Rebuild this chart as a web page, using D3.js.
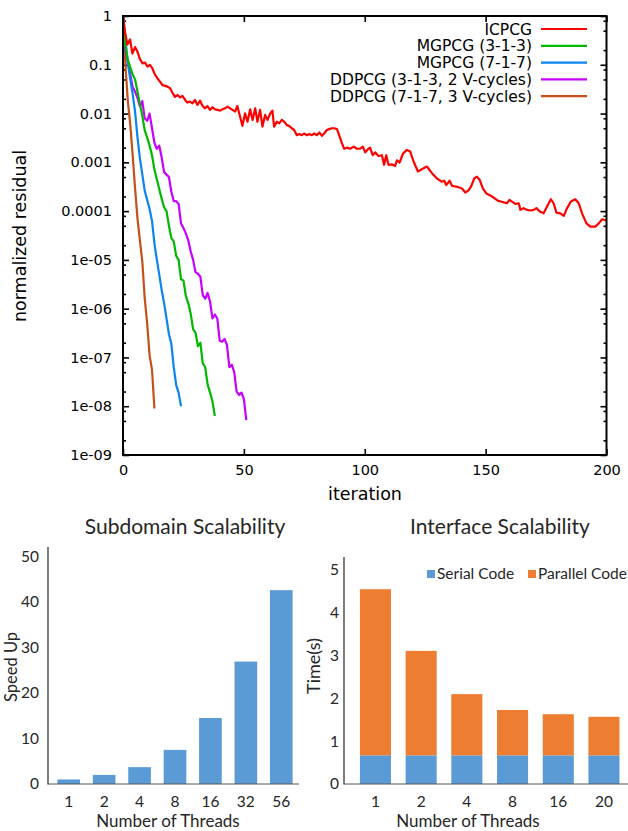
<!DOCTYPE html>
<html>
<head>
<meta charset="utf-8" />
<script src="https://d3js.org/d3.v7.min.js"></script>
<style>
  body { margin: 0; background: #fff; }
  .gp text { font-family: "DejaVu Sans", Verdana, sans-serif; fill: #000; }
  .xl text { font-family: Lato, "Open Sans", sans-serif; fill: #262626; }
</style>
</head>
<body>
<script>
// ---- convergence data (iteration, normalized residual) ----
var icpcg = [[0,1],[0.8,0.48],[1.8,0.26],[2.9,0.33],[3.9,0.17],[5,0.23],[5.9,0.19],[7,0.13],[8.1,0.107],[9.1,0.111],
  [10.1,0.092],[11.2,0.099],[12.1,0.085],[13.3,0.062],[14.2,0.053],[15.3,0.045],[16.3,0.0385],[17.4,0.037],[18.4,0.0356],
  [19.5,0.033],[20.4,0.027],[21.5,0.022],[22.5,0.024],[23.6,0.0215],[24.6,0.023],[25.7,0.019],[26.6,0.0168],[27.7,0.0176],
  [28.7,0.0162],[29.8,0.019],[30.8,0.015],[31.9,0.0184],[32.9,0.0143],[34,0.0128],[34.9,0.0143],[36,0.0119],[37,0.0134],
  [38.1,0.0122],[39.1,0.0119],[40.2,0.0115],[41.1,0.0122],[42.2,0.0128],[43.2,0.0139],[44.3,0.0128],[45.3,0.0119],
  [46.4,0.011],[47.3,0.0143],[48.4,0.0087],[49.4,0.0056],[50.5,0.0101],[51.5,0.0068],[52.6,0.0122],[53.6,0.0074],
  [54.7,0.0128],[55.6,0.0068],[56.7,0.0119],[57.7,0.0054],[58.8,0.0094],[59.8,0.0074],[60.9,0.0101],[61.8,0.0115],
  [62.5,0.0054],[63.6,0.0068],[64.6,0.0063],[65.7,0.0074],[66.7,0.0068],[67.8,0.0058],[68.7,0.0056],[69.8,0.005],
  [70.8,0.0046],[71.9,0.0036],[72.9,0.0038],[74,0.0036],[74.9,0.0039],[76.1,0.0036],[77,0.0038],[78.1,0.0036],
  [79.1,0.0039],[80.2,0.0036],[81.2,0.0041],[82.3,0.0035],[83.2,0.0039],[84.3,0.0046],[85.3,0.0048],[86.4,0.005],
  [87.4,0.005],[88.5,0.0048],[89.4,0.0036],[90.5,0.0025],[91.5,0.0019],[92.6,0.002],[94,0.0019],[95.4,0.0021],
  [96.8,0.0019],[98.1,0.0019],[99.2,0.0021],[100.2,0.0016],[101.5,0.0019],[102.2,0.002],[103.3,0.0014],[104.3,0.0016],
  [105.7,0.00135],[107.1,0.0014],[108,0.00089],[108.9,0.0014],[109.8,0.00089],[111.2,0.00091],[112.6,0.00084],
  [113.3,0.0011],[114.4,0.00099],[115.8,0.0015],[117.4,0.0018],[118.8,0.00166],[120.2,0.00104],[122,0.00065],
  [123.6,0.00072],[125.7,0.00082],[127.8,0.0006],[129.8,0.00047],[131.9,0.0004],[132.9,0.00042],[133.7,0.00034],
  [135.1,0.00042],[136.1,0.00033],[137.4,0.00032],[138.8,0.00031],[140.2,0.00029],[141.6,0.00024],[143,0.00027],
  [144.1,0.00033],[145.3,0.00047],[146.4,0.00051],[147.5,0.00044],[148.9,0.00029],[150.3,0.00023],[151.9,0.00021],
  [153.3,0.00019],[155,0.000164],[156.3,0.000157],[157.7,0.00015],[158.8,0.000145],[159.9,0.00017],[160.9,0.000157],
  [162.3,0.000141],[163.7,0.000145],[164.4,0.000106],[165.7,0.000115],[167.1,0.000106],[168.5,0.000103],
  [169.9,0.000106],[171,0.000115],[172.4,0.000098],[174,0.00009],[175.4,0.000124],[177,0.000175],[178.1,0.000145],
  [179.3,0.000093],[180.9,0.00009],[182.3,0.00008],[183.7,0.000115],[185.3,0.000157],[187.1,0.000175],[188.5,0.000145],
  [189.9,0.00009],[191.7,0.000056],[193.3,0.000048],[195.4,0.000048],[196.8,0.000056],[198.2,0.000068],[200,0.000064]];

var mg313 = [[0,1],[1,0.25],[2,0.126],[3,0.089],[4,0.063],[5,0.05],[6,0.028],[7,0.016],[8,0.0089],[9,0.0045],
  [10,0.0032],[11,0.0022],[12,0.0014],[13,7.1e-4],[14,4.5e-4],[15,2.8e-4],[16,1.8e-4],[17,1.2e-4],[18,1e-4],[19,5e-5],
  [20,2.8e-5],[21,2.4e-5],[22,1.2e-5],[23,1e-5],[24,4e-6],[25,3.8e-6],[26,1.8e-6],[27,1.3e-6],[28,7.9e-7],[29,3.8e-7],
  [30,3.2e-7],[31,1.7e-7],[32,2e-7],[33,7.6e-8],[34,6.3e-8],[35,2.8e-8],[36,1.9e-8],[37,1.26e-8],[38,6.3e-9]];

var mg717 = [[0,1],[1,0.32],[2,0.11],[3,0.05],[4,0.025],[5,0.011],[6,0.0032],[7,0.0012],[8,5.6e-4],[9,2.6e-4],
  [10,1.7e-4],[11,1.1e-4],[12,6.3e-5],[13,2.2e-5],[14,1e-5],[15,5e-6],[16,2.4e-6],[17,1.3e-6],[18,6.3e-7],[19,3e-7],
  [20,1.9e-7],[21,6.3e-8],[22,2.7e-8],[23,1.9e-8],[24,1e-8]];

var dd313 = [[0,1],[1,0.2],[2,0.11],[3,0.063],[4,0.035],[5,0.028],[6,0.021],[7,0.014],[8,0.018],[9,0.0079],
  [10,0.0071],[11,0.01],[12,0.005],[13,0.0025],[14,0.0019],[15,0.0022],[16,0.00126],[17,6.3e-4],[18,5.6e-4],[19,5e-4],
  [20,2.5e-4],[21,1.6e-4],[22,1.6e-4],[23,1.4e-4],[24,5.6e-5],[25,4.5e-5],[26,3.5e-5],[27,2.5e-5],[28,1.5e-5],[29,1e-5],
  [30,5.6e-6],[31,5.2e-6],[32,4.5e-6],[33,1.9e-6],[34,1.6e-6],[35,2.1e-6],[36,1.4e-6],[37,6.3e-7],[38,7.6e-7],[39,6.3e-7],
  [40,2.2e-7],[41,2.1e-7],[42,2.4e-7],[43,1.8e-7],[44,6.3e-8],[45,7.1e-8],[46,5e-8],[47,2e-8],[48,1.7e-8],[49,1.9e-8],
  [50,1.4e-8],[51,5.2e-9]];

var dd717 = [[0,1],[1,0.1],[2,0.018],[3,0.006],[4,0.0014],[5,2.9e-4],[6,7e-5],[7,2.5e-5],[8,9e-6],[9,1.6e-6],
  [10,5e-7],[11,1.1e-7],[12,5.6e-8],[13,9e-9]];

var seriesNames = ["ICPCG", "MGPCG (3-1-3)", "MGPCG (7-1-7)", "DDPCG (3-1-3, 2 V-cycles)", "DDPCG (7-1-7, 3 V-cycles)"];
var seriesColors = ["#ff0000", "#00b800", "#0a84f0", "#c800ff", "#c4501c"];
var seriesData = [icpcg, mg313, mg717, dd313, dd717];

var iterTicks = [0, 50, 100, 150, 200];
var resTicks = [1, 0.1, 0.01, 0.001, 1e-4, 1e-5, 1e-6, 1e-7, 1e-8, 1e-9];
var resTickLabels = ["1", "0.1", "0.01", "0.001", "0.0001", "1e-05", "1e-06", "1e-07", "1e-08", "1e-09"];
var resMinor = [];
resTicks.slice(0, 9).forEach(function(d){ [0.8, 0.5, 0.2].forEach(function(m){ resMinor.push(d * m); }); });

// ---- bar chart data ----
var threadsA = ["1", "2", "4", "8", "16", "32", "56"];
var speedUp = [1.0, 2.0, 3.7, 7.5, 14.5, 26.9, 42.6];
var speedTicks = [0, 10, 20, 30, 40, 50];

var threadsB = ["1", "2", "4", "8", "16", "20"];
var serialTime = [0.67, 0.67, 0.67, 0.67, 0.67, 0.67];
var parallelTime = [3.88, 2.44, 1.43, 1.06, 0.96, 0.90];
var timeTicks = [0, 1, 2, 3, 4, 5];
var stackKeys = ["Serial Code", "Parallel Code"];
var stackColors = ["#5b9bd5", "#ed7d31"];

var svg = d3.select("body").append("svg")
    .attr("width", 628).attr("height", 831);

// ================= top: convergence plot =================
var g = svg.append("g").attr("class", "gp");
var x = d3.scaleLinear().domain([0, 200]).range([123, 606.5]);
var y = d3.scaleLog().domain([1e-9, 1]).range([455, 16]);

var axB = g.append("g").attr("transform", "translate(0,455)")
    .call(d3.axisBottom(x).tickValues(iterTicks).tickSizeInner(-6).tickSizeOuter(0).tickPadding(10));
var axT = g.append("g").attr("transform", "translate(0,16)")
    .call(d3.axisTop(x).tickValues(iterTicks).tickSizeInner(-6).tickSizeOuter(0).tickFormat(""));
var axL = g.append("g").attr("transform", "translate(123,0)")
    .call(d3.axisLeft(y).tickValues(resTicks).tickFormat(function(d, i){ return resTickLabels[i]; })
      .tickSizeInner(-6).tickSizeOuter(0).tickPadding(11));
var axLm = g.append("g").attr("transform", "translate(123,0)")
    .call(d3.axisLeft(y).tickValues(resMinor).tickFormat("").tickSizeInner(-3).tickSizeOuter(0));
var axR = g.append("g").attr("transform", "translate(606.5,0)")
    .call(d3.axisRight(y).tickValues(resTicks).tickFormat("").tickSizeInner(-6).tickSizeOuter(0));
var axRm = g.append("g").attr("transform", "translate(606.5,0)")
    .call(d3.axisRight(y).tickValues(resMinor).tickFormat("").tickSizeInner(-3).tickSizeOuter(0));

[axB, axT, axL, axLm, axR, axRm].forEach(function(a){
  a.select(".domain").remove();
  a.selectAll(".tick line").attr("stroke", "#000").attr("stroke-width", 1.6);
  a.selectAll("text").style("font-size", "14.5px").attr("fill", "#000");
});

g.append("clipPath").attr("id", "plotclip").append("rect")
    .attr("x", 123).attr("y", 14).attr("width", 484).attr("height", 443);

var line = d3.line().x(function(d){ return x(d[0]); }).y(function(d){ return y(d[1]); });
g.append("g").attr("clip-path", "url(#plotclip)")
  .selectAll("path").data(seriesData.slice().reverse()).enter().append("path")
    .attr("d", line)
    .attr("fill", "none")
    .attr("stroke", function(d, i){ return seriesColors[seriesData.length - 1 - i]; })
    .attr("stroke-width", 2.2)
    .attr("stroke-linejoin", "round");

g.append("rect").attr("x", 123).attr("y", 16).attr("width", 483.5).attr("height", 439)
    .attr("fill", "none").attr("stroke", "#000").attr("stroke-width", 2);

// legend
var leg = g.append("g");
seriesNames.forEach(function(name, i){
  var yy = 29 + i * 16.8;
  leg.append("text").attr("x", 532).attr("y", yy).attr("dy", "0.36em")
     .attr("text-anchor", "end").style("font-size", "15.5px").text(name);
  leg.append("line").attr("x1", 541).attr("x2", 587).attr("y1", yy).attr("y2", yy)
     .attr("stroke", seriesColors[i]).attr("stroke-width", 2.2);
});

g.append("text").attr("x", 365).attr("y", 500).attr("text-anchor", "middle")
    .style("font-size", "17.5px").text("iteration");
g.append("text").attr("transform", "translate(26,236) rotate(-90)").attr("text-anchor", "middle")
    .style("font-size", "17.5px").text("normalized residual");

// ================= bottom left: subdomain scalability =================
var b1 = svg.append("g").attr("class", "xl");
var xa = d3.scaleBand().domain(threadsA).range([51, 299]).paddingInner(0.36).paddingOuter(0.18);
var ya = d3.scaleLinear().domain([0, 50]).range([784, 556.5]);

b1.selectAll("rect").data(speedUp).enter().append("rect")
    .attr("x", function(d, i){ return xa(threadsA[i]); })
    .attr("width", xa.bandwidth())
    .attr("y", function(d){ return ya(d); })
    .attr("height", function(d){ return ya(0) - ya(d); })
    .attr("fill", "#5b9bd5");

var ayA = b1.append("g").attr("transform", "translate(48,0)")
    .call(d3.axisLeft(ya).tickValues(speedTicks).tickFormat(d3.format("d")).tickSize(0).tickPadding(9));
var axA = b1.append("g").attr("transform", "translate(0,784)")
    .call(d3.axisBottom(xa).tickSize(0).tickPadding(12));
[ayA, axA].forEach(function(a){
  a.select(".domain").remove();
  a.selectAll("text").style("font-size", "15.5px").attr("fill", "#262626");
});
b1.append("line").attr("x1", 48).attr("x2", 48).attr("y1", 547).attr("y2", 784.5)
    .attr("stroke", "#262626").attr("stroke-width", 1.2);
b1.append("line").attr("x1", 48).attr("x2", 299).attr("y1", 784).attr("y2", 784)
    .attr("stroke", "#595959").attr("stroke-width", 1.2);

b1.append("text").attr("x", 185).attr("y", 534).attr("text-anchor", "middle")
    .style("font-size", "21px").text("Subdomain Scalability");
b1.append("text").attr("x", 168).attr("y", 827).attr("text-anchor", "middle")
    .style("font-size", "17px").text("Number of Threads");
b1.append("text").attr("transform", "translate(17,667) rotate(-90)").attr("text-anchor", "middle")
    .style("font-size", "16.5px").text("Speed Up");

// ================= bottom right: interface scalability =================
var b2 = svg.append("g").attr("class", "xl");
var xb = d3.scaleBand().domain(threadsB).range([352.6, 626.8]).paddingInner(0.32).paddingOuter(0.16);
var yb = d3.scaleLinear().domain([0, 5]).range([784, 570]);

var stackRows = threadsB.map(function(t, i){
  return { threads: t, "Serial Code": serialTime[i], "Parallel Code": parallelTime[i] };
});
var stacked = d3.stack().keys(stackKeys)(stackRows);

b2.selectAll("g.layer").data(stacked).enter().append("g").attr("class", "layer")
    .attr("fill", function(d, i){ return stackColors[i]; })
  .selectAll("rect").data(function(d){ return d; }).enter().append("rect")
    .attr("x", function(d){ return xb(d.data.threads); })
    .attr("width", xb.bandwidth())
    .attr("y", function(d){ return yb(d[1]); })
    .attr("height", function(d){ return yb(d[0]) - yb(d[1]); });

var ayB = b2.append("g").attr("transform", "translate(344,0)")
    .call(d3.axisLeft(yb).tickValues(timeTicks).tickFormat(d3.format("d")).tickSize(0).tickPadding(5));
var axB2 = b2.append("g").attr("transform", "translate(0,784)")
    .call(d3.axisBottom(xb).tickSize(0).tickPadding(12));
[ayB, axB2].forEach(function(a){
  a.select(".domain").remove();
  a.selectAll("text").style("font-size", "15.5px").attr("fill", "#262626");
});
b2.append("line").attr("x1", 344).attr("x2", 344).attr("y1", 557).attr("y2", 784.5)
    .attr("stroke", "#262626").attr("stroke-width", 1.2);
b2.append("line").attr("x1", 344).attr("x2", 628).attr("y1", 784).attr("y2", 784)
    .attr("stroke", "#595959").attr("stroke-width", 1.2);

b2.append("text").attr("x", 500).attr("y", 534).attr("text-anchor", "middle")
    .style("font-size", "21px").text("Interface Scalability");
b2.append("text").attr("x", 468).attr("y", 827).attr("text-anchor", "middle")
    .style("font-size", "17px").text("Number of Threads");
b2.append("text").attr("transform", "translate(320,666) rotate(-90)").attr("text-anchor", "middle")
    .style("font-size", "18px").text("Time(s)");

// legend
var legX = [427, 528];
stackKeys.forEach(function(k, i){
  b2.append("rect").attr("x", legX[i]).attr("y", 570).attr("width", 8).attr("height", 8)
      .attr("fill", stackColors[i]);
  b2.append("text").attr("x", legX[i] + 10).attr("y", 579)
      .style("font-size", "15.5px").text(k);
});
</script>
</body>
</html>
